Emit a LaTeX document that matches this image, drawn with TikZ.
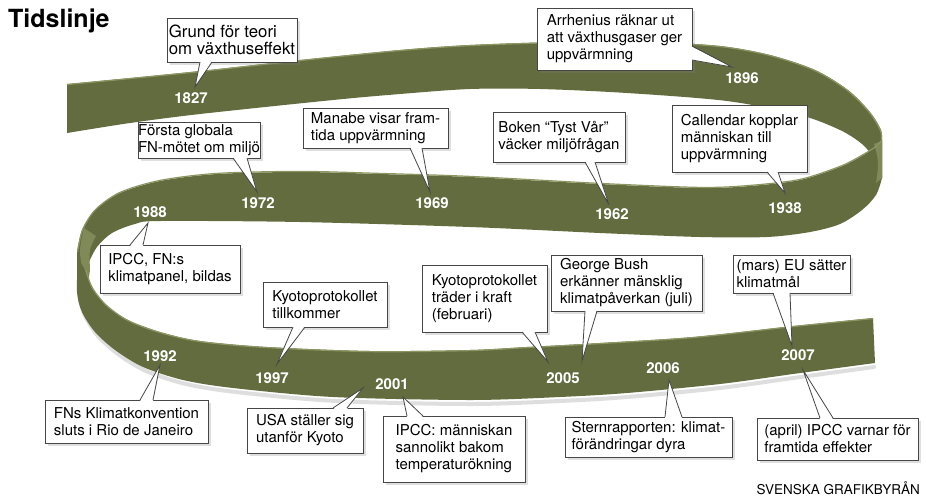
\documentclass[tikz,border=0pt]{standalone}
\usepackage{fontspec}
\setmainfont{TeX Gyre Heros}
\usetikzlibrary{calc,shadows}
\definecolor{bandc}{RGB}{99,108,62}
\definecolor{bandrim}{RGB}{140,150,98}
\definecolor{bandlight}{RGB}{128,138,88}
\definecolor{boxline}{RGB}{70,70,70}
\newcommand{\ptrbot}[4]{%
  \fill[white] ($(#1.south west)+(#2,-1.2)$) -- (#4) -- ($(#1.south west)+(#3,-1.2)$) -- cycle;
  \draw[ptr] ($(#1.south west)+(#2,0)$) -- (#4) -- ($(#1.south west)+(#3,0)$);}
\newcommand{\ptrtop}[4]{%
  \fill[white] ($(#1.north west)+(#2,1.2)$) -- (#4) -- ($(#1.north west)+(#3,1.2)$) -- cycle;
  \draw[ptr] ($(#1.north west)+(#2,0)$) -- (#4) -- ($(#1.north west)+(#3,0)$);}
\newcommand{\ptrright}[4]{%
  \fill[white] ($(#1.north east)+(-1.2,#2)$) -- (#4) -- ($(#1.north east)+(-1.2,#3)$) -- cycle;
  \draw[ptr] ($(#1.north east)+(0,#2)$) -- (#4) -- ($(#1.north east)+(0,#3)$);}
\begin{document}
\begin{tikzpicture}[x=1pt,y=-1pt,
  callout/.style={draw=boxline, line width=0.8pt, fill=white, anchor=north west, outer sep=0pt,
    inner sep=0pt, align=left, font=\fontsize{15}{17}\selectfont,
    drop shadow={opacity=0.25, shadow xshift=3pt, shadow yshift=-3pt}},
  year/.style={text=white, font=\bfseries\fontsize{15}{17}\selectfont, inner sep=0pt},
  ptr/.style={draw=boxline, line width=0.8pt, line join=miter}]
\useasboundingbox (0,0) rectangle (926,498);
\fill[white] (0,0) rectangle (926,498);

% ---- top band (back) ----
\fill[bandc] plot[smooth] coordinates {(67,84) (130,78) (200,71) (300,60) (400,50) (470,45) (560,42) (650,42) (720,46) (770,55) (815,70) (848,90) (870,112) (881,130) (882,140)}
  -- (882,178) -- plot[smooth] coordinates {(876,160) (862,144) (840,130) (800,115) (727,101) (627,93) (540,89) (470,89) (400,94) (333,100) (200,114) (130,123) (67,133)} -- cycle;
\draw[bandrim, line width=1.2pt] plot[smooth] coordinates {(67,84.6) (130,78.6) (200,71.6) (300,60.6) (400,50.6) (470,45.6) (560,42.6) (650,42.6) (720,46.6) (770,55.6) (815,70.6) (847.6,90.6) (869.5,112.6) (880.4,130.3) (881.4,140)};

% ---- middle band ----
\fill[bandc] plot[smooth] coordinates {(882,140) (876,147) (860,157) (840,167) (800,180) (750,186) (700,188) (600,184) (470,177) (380,174) (300,172) (217,174) (160,181) (120,193) (95,210) (82,230) (77,252)}
  -- (77,292) -- plot[smooth] coordinates {(86,282) (88,265) (97,247) (112,233) (135,224) (160,221) (300,222) (470,227) (600,233) (700,237) (767,237) (810,232) (840,224) (862,210) (876,195) (882,178)} -- cycle;
\fill[bandlight] plot[smooth] coordinates {(874,144) (877,155) (878,167) (876,183)} -- (882,178) -- (882,141) -- cycle;
\draw[bandrim, line width=1.2pt] plot[smooth] coordinates {(881.4,140.5) (876,146.4) (860,156.4) (840,166.4) (800,179.4) (750,185.4) (700,187.4) (600,183.4) (470,176.4) (380,173.4) (300,171.4) (217,173.4) (160,180.4) (120,192.4) (95.5,209.6) (82.6,229.8) (77.6,252)};
\fill[bandlight] plot[smooth] coordinates {(84,228) (80,250) (83,272) (88,284)} -- plot[smooth] coordinates {(90,270) (90,250) (96,236)} -- cycle;

% ---- bottom band (front) ----
\draw[black!25, line width=4pt, opacity=0.5, line cap=round] plot[smooth] coordinates {(80,300) (85,316) (98,336) (118,354) (146,371) (186,384) (236,392) (336,401) (470,404) (560,401) (627,397) (720,388) (793,378) (874,367)};
\fill[bandc] plot[smooth] coordinates {(78,258) (77,292) (82,312) (95,332) (115,350) (143,367) (183,380) (233,388) (333,397) (470,400) (560,397) (627,393) (720,384) (793,374) (875,363)}
  -- (873,318) -- plot[smooth] coordinates {(793,326) (693,337) (600,343) (527,347) (470,350) (370,351) (267,347) (200,341) (160,332) (128,320) (106,305) (92,288) (85,270)} -- cycle;
\draw[bandrim, line width=1.2pt] plot[smooth] coordinates {(873,318.6) (793,326.6) (693,337.6) (600,343.6) (527,347.6) (470,350.6) (370,351.6) (267,347.6) (200,341.6) (160,332.6) (128,320.6) (106.5,305.4) (92.6,288.2) (85.6,270)};

% ---- years ----
\node[year] (y1827) at (191,98) {1827};
\node[year] (y1896) at (742,78) {1896};
\node[year] (y1969) at (432,203) {1969};
\node[year] (y1972) at (258,203) {1972};
\node[year] (y1962) at (612,214) {1962};
\node[year] (y1938) at (785,208) {1938};
\node[year] (y1988) at (150,212) {1988};
\node[year] (y1992) at (160,356) {1992};
\node[year] (y1997) at (272,378) {1997};
\node[year] (y2001) at (392,384) {2001};
\node[year] (y2005) at (563,378) {2005};
\node[year] (y2006) at (663,368) {2006};
\node[year] (y2007) at (798,355) {2007};

% ---- pointer tips ----
\coordinate (t1) at (195,87);
\coordinate (t2) at (732,67);
\coordinate (t3) at (430,192);
\coordinate (t4) at (257,192);
\coordinate (t5) at (609,205);
\coordinate (t6) at (785,193);
\coordinate (t7) at (148,223);
\coordinate (t8) at (277,364);
\coordinate (t9) at (160,365);
\coordinate (t10) at (363,388);
\coordinate (t11) at (403,397);
\coordinate (t12) at (548,362);
\coordinate (t13) at (582,361);
\coordinate (t14) at (669,380);
\coordinate (t15) at (792,346);
\coordinate (t16) at (803,370);

% ---- callouts ----
\node[callout, minimum width=130, minimum height=44, font=\fontsize{16.8}{17}\selectfont] (b1) at (167,18) {Grund för teori\\om växthuseffekt};
\ptrbot{b1}{33}{45}{t1}
\node[callout, minimum width=155, minimum height=62] (b2) at (537,8) {Arrhenius räknar ut\\att växthusgaser ger\\uppvärmning};
\ptrright{b2}{38}{52}{t2}
\node[callout, minimum width=145, minimum height=40] (b3) at (303,108) {Manabe visar fram-\\tida uppvärmning};
\ptrbot{b3}{107}{119}{t3}
\node[callout, minimum width=120, minimum height=36] (b4) at (138,122) {Första globala\\FN-mötet om miljö};
\ptrbot{b4}{95}{109}{t4}
\node[callout, minimum width=132, minimum height=50] (b5) at (493,112) {Boken “Tyst Vår”\\väcker miljöfrågan};
\ptrbot{b5}{92}{102}{t5}
\node[callout, minimum width=135, minimum height=67] (b6) at (672,105) {Callendar kopplar\\människan till\\uppvärmning};
\ptrbot{b6}{95}{106}{t6}
\node[callout, minimum width=140, minimum height=48] (b7) at (100,245) {IPCC, FN:s\\klimatpanel, bildas};
\ptrtop{b7}{30}{43}{t7}
\node[callout, minimum width=124, minimum height=45] (b8) at (263,282) {Kyotoprotokollet\\tillkommer};
\ptrbot{b8}{30}{42}{t8}
\node[callout, minimum width=163, minimum height=43] (b9) at (45,400) {FNs Klimatkonvention\\sluts i Rio de Janeiro};
\ptrtop{b9}{95}{108}{t9}
\node[callout, minimum width=116, minimum height=45] (b10) at (247,408) {USA ställer sig\\utanför Kyoto};
\ptrtop{b10}{86}{100}{t10}
\node[callout, minimum width=142, minimum height=66] (b11) at (383,416) {IPCC: människan\\sannolikt bakom\\temperaturökning};
\ptrtop{b11}{24}{40}{t11}
\node[callout, minimum width=125, minimum height=67] (b12) at (422,265) {Kyotoprotokollet\\träder i kraft\\(februari)};
\ptrbot{b12}{100}{113}{t12}
\node[callout, minimum width=151, minimum height=56] (b13) at (551,255) {George Bush\\erkänner mänsklig\\klimatpåverkan (juli)};
\ptrbot{b13}{34}{46}{t13}
\node[callout, minimum width=167, minimum height=40] (b14) at (565,417) {Sternrapporten: klimat-\\förändringar dyra};
\ptrtop{b14}{100}{117}{t14}
\node[callout, minimum width=117, minimum height=38] (b15) at (733,255) {(mars) EU sätter\\klimatmål};
\ptrbot{b15}{40}{57}{t15}
\node[callout, minimum width=161, minimum height=42] (b16) at (757,418) {(april) IPCC varnar för\\framtida effekter};
\ptrtop{b16}{63}{76}{t16}

% ---- title and credit ----
\node[anchor=base west, inner sep=0pt, font=\bfseries\fontsize{25}{30}\selectfont] (title) at (8,27) {Tidslinje};
\node[anchor=base east, inner sep=0pt, font=\fontsize{13.5}{16}\selectfont] (credit) at (920,494) {SVENSKA GRAFIKBYRÅN};
\end{tikzpicture}
\end{document}
